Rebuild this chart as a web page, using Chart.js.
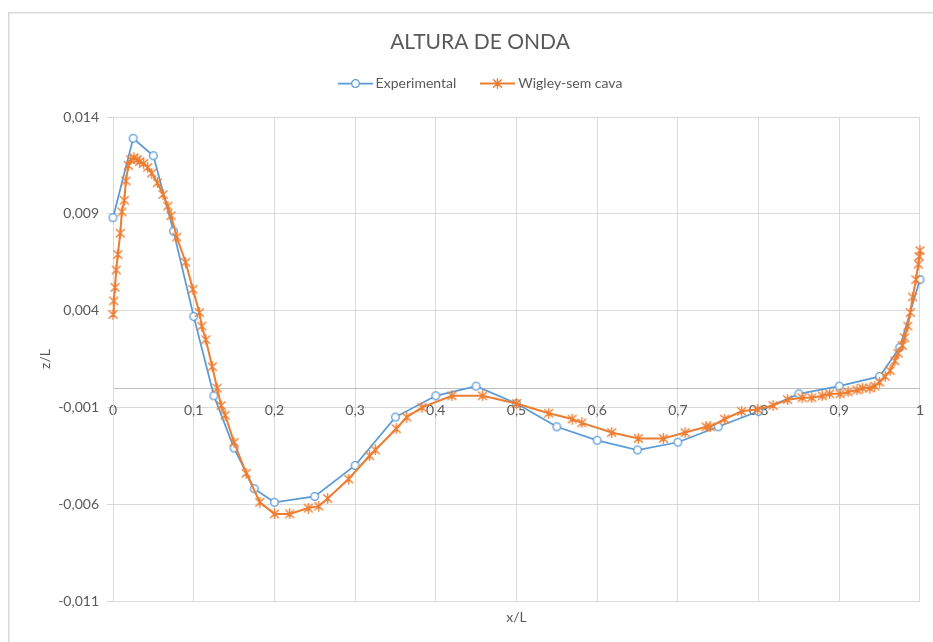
<!DOCTYPE html>
<html>
<head>
<meta charset="utf-8">
<title>ALTURA DE ONDA</title>
<script src="https://cdn.jsdelivr.net/npm/chart.js@4.4.1/dist/chart.umd.min.js"></script>
<style>
  html, body { margin: 0; padding: 0; background: #fff; overflow: hidden; }
  #wrap { position: relative; width: 933px; height: 642px; }
</style>
</head>
<body>
<div id="wrap"><canvas id="c" width="933" height="642"></canvas></div>
<script>
// ---- Text ----
const chartTitle = 'ALTURA DE ONDA';
const xTitle = 'x/L';
const yTitle = 'z/L';
const seriesNames = ['Experimental', 'Wigley-sem cava'];

// ---- Axis ticks ----
const xTickValues = [0, 0.1, 0.2, 0.3, 0.4, 0.5, 0.6, 0.7, 0.8, 0.9, 1];
const yTickValues = [-0.011, -0.006, -0.001, 0.004, 0.009, 0.014];

// ---- Experimental wave elevation ----
const expX = [0, 0.025, 0.05, 0.075, 0.1, 0.125, 0.15, 0.175, 0.2, 0.25, 0.3, 0.35, 0.4,
              0.45, 0.5, 0.55, 0.6, 0.65, 0.7, 0.75, 0.8, 0.85, 0.9, 0.95, 0.975, 1.0];
const expZ = [0.0088, 0.0129, 0.0120, 0.0081, 0.0037, -0.0004, -0.0031, -0.0052, -0.0059, -0.0056, -0.0040, -0.0015, -0.0004,
              0.0001, -0.0008, -0.0020, -0.0027, -0.0032, -0.0028, -0.0020, -0.0012, -0.0003, 0.0001, 0.0006, 0.0021, 0.0056];

// ---- Wigley hull without sinkage/trim (computed) ----
const wigX = [0, 0.001, 0.0025, 0.004, 0.006, 0.009, 0.011, 0.014, 0.016, 0.019,
              0.022, 0.026, 0.030, 0.033, 0.038, 0.043, 0.048, 0.055, 0.062, 0.068,
              0.072, 0.079, 0.090, 0.099, 0.107, 0.110, 0.115, 0.123, 0.129, 0.134,
              0.139, 0.150, 0.165, 0.182, 0.200, 0.219, 0.242, 0.255, 0.266, 0.292,
              0.318, 0.325, 0.351, 0.364, 0.383, 0.420, 0.458, 0.500, 0.540, 0.569,
              0.581, 0.618, 0.651, 0.682, 0.709, 0.735, 0.740, 0.758, 0.779, 0.799,
              0.818, 0.836, 0.854, 0.866, 0.879, 0.888, 0.901, 0.911, 0.922, 0.929,
              0.938, 0.944, 0.950, 0.957, 0.963, 0.969, 0.973, 0.978, 0.981, 0.985,
              0.988, 0.991, 0.995, 0.998, 0.999, 1.000];
const wigZ = [0.0038, 0.0045, 0.0052, 0.0061, 0.0069, 0.0080, 0.0091, 0.0097, 0.0107, 0.0115,
              0.0118, 0.0119, 0.0118, 0.0117, 0.0116, 0.0114, 0.0111, 0.0106, 0.0100, 0.0094,
              0.0089, 0.0078, 0.0065, 0.0051, 0.0039, 0.0032, 0.0025, 0.0011, 0.0000, -0.0009,
              -0.0014, -0.0028, -0.0044, -0.0059, -0.0065, -0.0065, -0.0062, -0.0061, -0.0057, -0.0047,
              -0.0035, -0.0032, -0.0021, -0.0015, -0.0010, -0.0004, -0.0004, -0.0008, -0.0013, -0.0016,
              -0.0018, -0.0023, -0.0026, -0.0026, -0.0023, -0.0020, -0.0020, -0.0016, -0.0012, -0.0011,
              -0.0009, -0.0006, -0.0005, -0.0005, -0.0004, -0.0003, -0.0003, -0.0002, -0.0001, 0.0000,
              0.0000, 0.0001, 0.0003, 0.0006, 0.0009, 0.0014, 0.0018, 0.0022, 0.0026, 0.0032,
              0.0039, 0.0047, 0.0056, 0.0064, 0.0068, 0.0071];

// ---- Style ----
const BLUE = '#5B9BD5';
const ORANGE = '#ED7D31';
const TEXT = '#595959';
const GRID = '#d9d9d9';
const FONT = 'Lato, "Open Sans", "Liberation Sans", sans-serif';

// Hollow circle marker
function circleMarker() {
  const c = document.createElement('canvas');
  c.width = 11; c.height = 11;
  const g = c.getContext('2d');
  g.beginPath();
  g.arc(5.5, 5.5, 3.8, 0, Math.PI * 2);
  g.fillStyle = '#fff';
  g.fill();
  g.lineWidth = 1.3;
  g.strokeStyle = BLUE;
  g.stroke();
  return c;
}

// Asterisk marker: vertical bar plus an X
function asteriskMarker() {
  const c = document.createElement('canvas');
  c.width = 11; c.height = 11;
  const g = c.getContext('2d');
  g.strokeStyle = ORANGE;
  g.lineWidth = 1.4;
  g.lineCap = 'round';
  g.beginPath();
  g.moveTo(5.5, 0.8); g.lineTo(5.5, 10.2);
  g.moveTo(1.5, 1.8); g.lineTo(9.5, 9.2);
  g.moveTo(9.5, 1.8); g.lineTo(1.5, 9.2);
  g.stroke();
  return c;
}

// Legend swatch: short line segment with the marker in its middle
function legendSwatch(color, marker, lineWidth) {
  const c = document.createElement('canvas');
  c.width = 35; c.height = 11;
  const g = c.getContext('2d');
  g.strokeStyle = color;
  g.lineWidth = lineWidth;
  g.beginPath();
  g.moveTo(0, 5.5); g.lineTo(35, 5.5);
  g.stroke();
  g.drawImage(marker, 12, 0);
  return c;
}

const expMarker = circleMarker();
const wigMarker = asteriskMarker();
const swatches = [legendSwatch(BLUE, expMarker, 1.75), legendSwatch(ORANGE, wigMarker, 2)];

function fmt(v) {
  if (Math.abs(v) < 1e-9) return '0';
  return String(+Number(v).toFixed(3)).replace('.', ',');
}

// Outer frame of the chart object
const framePlugin = {
  id: 'frame',
  beforeDraw(chart) {
    const ctx = chart.ctx;
    ctx.save();
    ctx.fillStyle = '#fff';
    ctx.fillRect(0, 0, chart.width, chart.height);
    ctx.strokeStyle = GRID;
    ctx.lineWidth = 1.5;
    ctx.strokeRect(8.75, 12.75, 1000, 1000);
    ctx.restore();
  }
};

// Title and legend row above the plot
const headerPlugin = {
  id: 'header',
  afterDraw(chart) {
    const ctx = chart.ctx;
    const cx = 480;
    ctx.save();
    ctx.fillStyle = TEXT;
    ctx.textAlign = 'center';
    ctx.textBaseline = 'middle';
    ctx.font = '21px ' + FONT;
    ctx.fillText(chartTitle, cx, 42);

    ctx.font = '14px ' + FONT;
    ctx.textAlign = 'left';
    const gap = 3, between = 24;
    const widths = seriesNames.map(n => ctx.measureText(n).width);
    let total = 0;
    widths.forEach((w, i) => { total += swatches[i].width + gap + w; });
    total += between * (seriesNames.length - 1);
    let x = cx - total / 2;
    const y = 83;
    seriesNames.forEach((name, i) => {
      ctx.drawImage(swatches[i], Math.round(x), Math.round(y - 5.5));
      x += swatches[i].width + gap;
      ctx.fillText(name, x, y);
      x += widths[i] + between;
    });
    ctx.restore();
  }
};

const toPoints = (xs, ys) => xs.map((x, i) => ({ x: x, y: ys[i] }));

new Chart(document.getElementById('c'), {
  type: 'scatter',
  data: {
    datasets: [
      {
        label: seriesNames[0],
        data: toPoints(expX, expZ),
        showLine: true,
        borderColor: BLUE,
        borderWidth: 1.75,
        pointStyle: expMarker,
        pointRadius: 4,
        clip: false,
        order: 2
      },
      {
        label: seriesNames[1],
        data: toPoints(wigX, wigZ),
        showLine: true,
        borderColor: ORANGE,
        borderWidth: 2,
        pointStyle: wigMarker,
        pointRadius: 5,
        clip: false,
        order: 1
      }
    ]
  },
  options: {
    responsive: false,
    animation: false,
    events: [],
    layout: { padding: { top: 117, left: 20, right: 13, bottom: 0 } },
    plugins: {
      legend: { display: false },
      title: { display: false },
      tooltip: { enabled: false }
    },
    scales: {
      x: {
        type: 'linear',
        min: 0, max: 1,
        position: { y: 0 },
        afterBuildTicks(s) { s.ticks = xTickValues.map(v => ({ value: v })); },
        grid: { color: GRID, lineWidth: 1, tickLength: 5 },
        border: { color: '#bfbfbf', width: 1 },
        ticks: {
          color: TEXT,
          font: { family: FONT, size: 14 },
          padding: 9,
          maxRotation: 0,
          autoSkip: false,
          callback: v => fmt(v)
        }
      },
      x2: {
        type: 'linear',
        min: 0, max: 1,
        position: 'bottom',
        grid: { display: false, drawTicks: false },
        border: { display: false },
        ticks: { display: false },
        title: {
          display: true, text: xTitle, color: TEXT,
          font: { family: FONT, size: 14 },
          padding: { top: 8, bottom: 16 }
        },
        afterFit(s) { s.height = 41; }
      },
      y: {
        type: 'linear',
        min: -0.011, max: 0.014,
        afterBuildTicks(s) { s.ticks = yTickValues.map(v => ({ value: v })); },
        grid: { color: GRID, lineWidth: 1, tickLength: 6 },
        border: { color: GRID, width: 1 },
        ticks: {
          color: TEXT,
          font: { family: FONT, size: 14 },
          padding: 8,
          callback: v => fmt(v)
        },
        title: {
          display: true, text: yTitle, color: TEXT,
          font: { family: FONT, size: 14 },
          padding: { top: 17, bottom: 0 }
        },
        afterFit(s) { s.width = 93; }
      }
    }
  },
  plugins: [framePlugin, headerPlugin]
});
</script>
</body>
</html>
